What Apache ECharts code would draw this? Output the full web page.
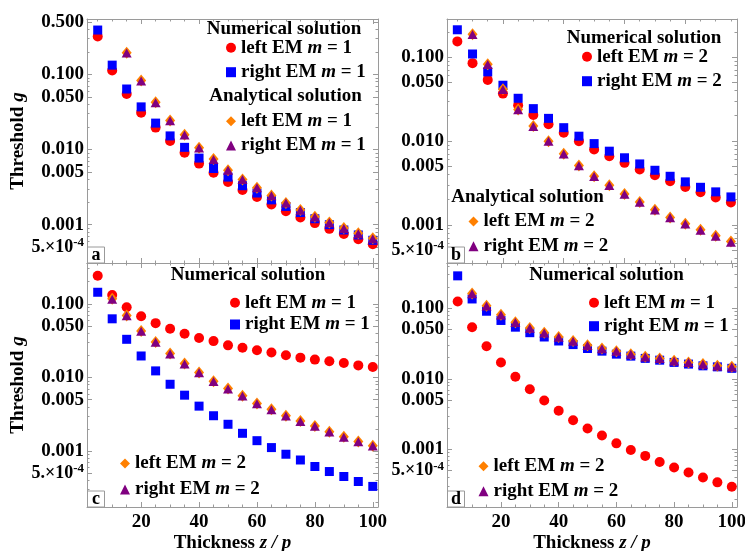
<!DOCTYPE html>
<html><head><meta charset="utf-8">
<script src="https://cdn.jsdelivr.net/npm/echarts@6/dist/echarts.min.js"></script>
<style>html,body{margin:0;padding:0;background:#fff}#c{width:745px;height:551px}</style>
</head><body><div id="c"></div><script>
// ---------------- data ----------------
const xTickLabels = [20, 40, 60, 80, 100];
const xMinorTicks = [5, 10, 15, 25, 30, 35, 45, 50, 55, 65, 70, 75, 85, 90, 95];
const yTickLabels = [0.0005, 0.001, 0.005, 0.01, 0.05, 0.1, 0.5];
const yTickText = ['5e-4', '0.001', '0.005', '0.010', '0.050', '0.100', '0.500'];

const xFull = [5, 10, 15, 20, 25, 30, 35, 40, 45, 50, 55, 60, 65, 70, 75, 80, 85, 90, 95, 100];
const xFrom10 = [10, 15, 20, 25, 30, 35, 40, 45, 50, 55, 60, 65, 70, 75, 80, 85, 90, 95, 100];
const xFrom15 = [15, 20, 25, 30, 35, 40, 45, 50, 55, 60, 65, 70, 75, 80, 85, 90, 95, 100];
const xTo95 = [5, 10, 15, 20, 25, 30, 35, 40, 45, 50, 55, 60, 65, 70, 75, 80, 85, 90, 95];
const xFrom10To95 = [10, 15, 20, 25, 30, 35, 40, 45, 50, 55, 60, 65, 70, 75, 80, 85, 90, 95];

// panel a (m = 1)
const aLeftNum  = [0.32, 0.113, 0.055, 0.031, 0.0196, 0.013, 0.0091, 0.0065, 0.0049, 0.0037, 0.0029, 0.00233, 0.00186, 0.00151, 0.00125, 0.00105, 0.00088, 0.00075, 0.00064, 0.00055];
const aRightNum = [0.39, 0.133, 0.064, 0.037, 0.0225, 0.0152, 0.0107, 0.0077, 0.0056, 0.0043, 0.0033, 0.00264, 0.00214, 0.00175, 0.00145, 0.0012, 0.001, 0.00085, 0.00073, 0.00062];
const aLeftAna  = [0.195, 0.083, 0.0425, 0.0244, 0.0157, 0.0106, 0.0075, 0.0053, 0.004, 0.0031, 0.00245, 0.00195, 0.00157, 0.00128, 0.00107, 0.0009, 0.00077, 0.00066];
const aRightAna = [0.193, 0.082, 0.042, 0.0242, 0.0156, 0.0105, 0.0074, 0.0053, 0.004, 0.0031, 0.00243, 0.00194, 0.00156, 0.00127, 0.00106, 0.00089, 0.00076, 0.00065];

// panel b (m = 2)
const bLeftNum  = [0.154, 0.0848, 0.0535, 0.0367, 0.0266, 0.0204, 0.0158, 0.0125, 0.00995, 0.0079, 0.00658, 0.00548, 0.00456, 0.00389, 0.0033, 0.00283, 0.00244, 0.00212, 0.00185];
const bRightNum = [0.212, 0.109, 0.0667, 0.0462, 0.0323, 0.0243, 0.0186, 0.0144, 0.0114, 0.0093, 0.00755, 0.0063, 0.00532, 0.00447, 0.00379, 0.00325, 0.0028, 0.00247, 0.00215];
const bLeftAna  = [0.188, 0.0824, 0.0414, 0.0238, 0.01503, 0.00995, 0.00703, 0.00509, 0.00379, 0.00296, 0.00233, 0.00187, 0.00151, 0.00122, 0.00103, 0.00087, 0.00074, 0.00063];
const bRightAna = [0.186, 0.0818, 0.0411, 0.0236, 0.0149, 0.0099, 0.007, 0.00506, 0.00377, 0.00294, 0.00232, 0.00186, 0.0015, 0.00121, 0.00102, 0.00086, 0.00073, 0.00062];

// panel c
const cLeftNum  = [0.241, 0.132, 0.09, 0.068, 0.0547, 0.0459, 0.0393, 0.0343, 0.0312, 0.0273, 0.0254, 0.0234, 0.0218, 0.02, 0.0186, 0.0175, 0.0166, 0.0157, 0.0146, 0.0139];
const cRightNum = [0.1435, 0.0626, 0.033, 0.0196, 0.0123, 0.0081, 0.00576, 0.00409, 0.00303, 0.00232, 0.00175, 0.00139, 0.00112, 0.00091, 0.00076, 0.00062, 0.00053, 0.000454, 0.000388, 0.000333];
const cLeftAna  = [0.117, 0.0695, 0.0427, 0.0303, 0.0211, 0.01545, 0.0117, 0.0089, 0.0071, 0.00564, 0.00445, 0.0037, 0.00303, 0.00257, 0.0022, 0.00184, 0.00157, 0.00135, 0.00119];
const cRightAna = [0.115, 0.0688, 0.0423, 0.03, 0.0209, 0.0153, 0.0116, 0.0088, 0.007, 0.0056, 0.0044, 0.00366, 0.003, 0.00254, 0.00218, 0.00182, 0.00155, 0.00134, 0.00118];

// panel d
const dLeftNum  = [0.125, 0.054, 0.029, 0.0171, 0.0107, 0.00714, 0.00494, 0.00354, 0.00259, 0.00198, 0.00158, 0.00122, 0.00098, 0.00081, 0.000665, 0.000555, 0.000472, 0.000401, 0.000342, 0.000297];
const dRightNum = [0.288, 0.1355, 0.0908, 0.0672, 0.054, 0.0451, 0.0392, 0.0344, 0.0306, 0.0269, 0.0247, 0.0224, 0.021, 0.0195, 0.0184, 0.0171, 0.0162, 0.0153, 0.0148, 0.0141];
const dLeftAna  = [0.1625, 0.109, 0.0807, 0.0635, 0.0524, 0.0451, 0.0392, 0.0344, 0.0299, 0.0269, 0.0247, 0.0224, 0.0205, 0.0195, 0.018, 0.0171, 0.0162, 0.0153, 0.0148];
const dRightAna = [0.161, 0.108, 0.08, 0.063, 0.052, 0.0448, 0.039, 0.0342, 0.0297, 0.0268, 0.0246, 0.0223, 0.0204, 0.0194, 0.0179, 0.017, 0.0161, 0.0152, 0.0147];

// ---------------- styling / layout ----------------
const FONT = "'Liberation Serif', 'Times New Roman', serif";
const FRAME = '#9a9a9a';
const RED = '#ff0000', BLUE = '#0000ff', ORANGE = '#ff8000', PURPLE = '#800080';
const FS = 19;

const yMinorTicks = [];
[-4, -3, -2, -1].forEach(n => [2, 3, 4, 6, 7, 8, 9].forEach(k => yMinorTicks.push(k * Math.pow(10, n))));

const panels = [
  { key: 'a', grid: { left: 87, top: 19, width: 291, height: 244 }, xr: [1.3, 101.8], yr: [3.09e-4, 0.547], xLab: false, yName: true,
    series: [
      { n: 'a1', x: xFull, y: aLeftNum, s: 'circle', c: RED, t: 'left EM ', m: '1' },
      { n: 'a2', x: xFull, y: aRightNum, s: 'rect', c: BLUE, t: 'right EM ', m: '1' },
      { n: 'a3', x: xFrom15, y: aLeftAna, s: 'diamond', c: ORANGE, t: 'left EM ', m: '1' },
      { n: 'a4', x: xFrom15, y: aRightAna, s: 'triangle', c: PURPLE, t: 'right EM ', m: '1' }],
    rows: [['a1', 231, 48.3], ['a2', 231, 72.7], ['a3', 231, 121.7], ['a4', 231, 146]],
    heads: [['Numerical solution', 284, 29], ['Analytical solution', 285.5, 96]] },
  { key: 'b', grid: { left: 447, top: 19, width: 290, height: 244 }, xr: [1.6, 97], yr: [3.5e-4, 0.285], xLab: false, yName: false,
    series: [
      { n: 'b1', x: xTo95, y: bLeftNum, s: 'circle', c: RED, t: 'left EM ', m: '2' },
      { n: 'b2', x: xTo95, y: bRightNum, s: 'rect', c: BLUE, t: 'right EM ', m: '2' },
      { n: 'b3', x: xFrom10To95, y: bLeftAna, s: 'diamond', c: ORANGE, t: 'left EM ', m: '2' },
      { n: 'b4', x: xFrom10To95, y: bRightAna, s: 'triangle', c: PURPLE, t: 'right EM ', m: '2' }],
    rows: [['b1', 587, 57.3], ['b2', 587, 81.7], ['b3', 473.5, 222], ['b4', 473.5, 246.7]],
    heads: [['Numerical solution', 644, 38], ['Analytical solution', 527.5, 197]] },
  { key: 'c', grid: { left: 87, top: 263, width: 291, height: 244 }, xr: [1.3, 101.8], yr: [1.75e-4, 0.358], xLab: true, yName: true,
    series: [
      { n: 'c1', x: xFull, y: cLeftNum, s: 'circle', c: RED, t: 'left EM ', m: '1' },
      { n: 'c2', x: xFull, y: cRightNum, s: 'rect', c: BLUE, t: 'right EM ', m: '1' },
      { n: 'c3', x: xFrom10, y: cLeftAna, s: 'diamond', c: ORANGE, t: 'left EM ', m: '2' },
      { n: 'c4', x: xFrom10, y: cRightAna, s: 'triangle', c: PURPLE, t: 'right EM ', m: '2' }],
    rows: [['c1', 235, 303.3], ['c2', 235, 325], ['c3', 125, 464], ['c4', 125, 490]],
    heads: [['Numerical solution', 248, 275]] },
  { key: 'd', grid: { left: 447, top: 263, width: 290, height: 244 }, xr: [1.3, 101.8], yr: [1.53e-4, 0.438], xLab: true, yName: false,
    series: [
      { n: 'd1', x: xFull, y: dLeftNum, s: 'circle', c: RED, t: 'left EM ', m: '1' },
      { n: 'd2', x: xFull, y: dRightNum, s: 'rect', c: BLUE, t: 'right EM ', m: '1' },
      { n: 'd3', x: xFrom10, y: dLeftAna, s: 'diamond', c: ORANGE, t: 'left EM ', m: '2' },
      { n: 'd4', x: xFrom10, y: dRightAna, s: 'triangle', c: PURPLE, t: 'right EM ', m: '2' }],
    rows: [['d1', 594, 303.3], ['d2', 594, 326.7], ['d3', 483.5, 466.7], ['d4', 483.5, 491.7]],
    heads: [['Numerical solution', 606.5, 275]] }
];

const symSize = { circle: 10, rect: 9, diamond: [10, 12], triangle: [10, 9] };
const baseText = { fontFamily: FONT, fontWeight: 'bold', fontSize: FS, color: '#000' };
const richText = {
  n: { fontFamily: FONT, fontWeight: 'bold', fontSize: FS, color: '#000', lineHeight: 20 },
  i: { fontFamily: FONT, fontWeight: 'bold', fontStyle: 'italic', fontSize: FS, color: '#000', lineHeight: 20 }
};

function yLabelFmt(v) {
  let best = 0, bd = 1e9;
  yTickLabels.forEach((t, k) => { const d = Math.abs(Math.log(v / t)); if (d < bd) { bd = d; best = k; } });
  if (bd > 1e-3) return '';
  if (best === 0) return '{m|5.×10}{s|-4}';
  return yTickText[best];
}

const grids = [], xAxes = [], yAxes = [], series = [], legends = [], graphics = [];
const labelMap = {};

panels.forEach((p, gi) => {
  grids.push(Object.assign({ containLabel: false, outerBoundsMode: 'none' }, p.grid));
  [['bottom', true], ['bottom', false], ['top', true], ['top', false]].forEach(([pos, major]) => {
    const ax = {
      type: 'value', gridIndex: gi, position: pos, min: p.xr[0], max: p.xr[1], silent: true,
      axisLine: { show: major, onZero: false, lineStyle: { color: FRAME, width: 1 } },
      axisTick: { show: true, inside: true, length: major ? 5 : 2.5, customValues: major ? xTickLabels : xMinorTicks, lineStyle: { color: FRAME } },
      axisLabel: Object.assign({ show: major && pos === 'bottom' && p.xLab, customValues: xTickLabels, margin: 6 }, baseText),
      splitLine: { show: false }, minorTick: { show: false }
    };
    if (major && pos === 'bottom' && p.xLab) {
      ax.name = '{n|Thickness }{i|z / p}';
      ax.nameLocation = 'middle';
      ax.nameGap = 26;
      ax.nameTextStyle = Object.assign({ rich: richText }, baseText);
    }
    xAxes.push(ax);
  });
  [['left', true], ['left', false], ['right', true], ['right', false]].forEach(([pos, major]) => {
    const ax = {
      type: 'log', logBase: 10, gridIndex: gi, position: pos, min: p.yr[0], max: p.yr[1], silent: true,
      axisLine: { show: major, onZero: false, lineStyle: { color: FRAME, width: 1 } },
      axisTick: { show: true, inside: true, length: major ? 5 : 2.5, customValues: major ? yTickLabels : yMinorTicks, lineStyle: { color: FRAME } },
      axisLabel: Object.assign({
        show: major && pos === 'left', customValues: yTickLabels, margin: 3, formatter: yLabelFmt,
        rich: {
          m: { fontFamily: FONT, fontWeight: 'bold', fontSize: 18, color: '#000', lineHeight: 22, verticalAlign: 'middle' },
          s: { fontFamily: FONT, fontWeight: 'bold', fontSize: 13, color: '#000', lineHeight: 13, verticalAlign: 'top' }
        }
      }, baseText),
      splitLine: { show: false }, minorTick: { show: false }
    };
    if (major && pos === 'left' && p.yName) {
      ax.name = '{n|Threshold }{i|g}';
      ax.nameLocation = 'middle';
      ax.nameGap = 58;
      ax.nameRotate = 90;
      ax.nameTextStyle = Object.assign({ rich: richText }, baseText);
    }
    yAxes.push(ax);
  });
  p.series.forEach(s => {
    labelMap[s.n] = '{n|' + s.t + '}{i|m}{n| = ' + s.m + '}';
    series.push({
      type: 'scatter', name: s.n, xAxisIndex: gi * 4, yAxisIndex: gi * 4,
      symbol: s.s, symbolSize: symSize[s.s], itemStyle: { color: s.c, opacity: 1 },
      data: s.x.map((x, k) => [x, s.y[k]]), silent: true
    });
  });
  p.rows.forEach(([name, cx, cy]) => {
    legends.push({
      data: [name], left: cx - 5, top: cy - 10, padding: 0, orient: 'vertical',
      itemWidth: 10, itemHeight: 10, selectedMode: false,
      formatter: nm => labelMap[nm],
      textStyle: Object.assign({ rich: richText }, baseText)
    });
  });
  p.heads.forEach(([txt, cx, cy]) => {
    graphics.push({ type: 'text', x: cx, y: cy, silent: true,
      style: { text: txt, fill: '#000', font: 'bold ' + FS + 'px ' + FONT, align: 'center', verticalAlign: 'middle' } });
  });
  const bx = p.grid.left + 0.5, by = p.grid.top + p.grid.height - 16;
  graphics.push({ type: 'rect', shape: { x: bx, y: by, width: 17, height: 16 }, silent: true,
    style: { fill: '#fff', stroke: FRAME, lineWidth: 1 }, z: 10 });
  graphics.push({ type: 'text', x: bx + 8.5, y: by + 8.5, silent: true, z: 11,
    style: { text: p.key, fill: '#000', font: 'bold 18px ' + FONT, align: 'center', verticalAlign: 'middle' } });
});

const chart = echarts.init(document.getElementById('c'), null, { renderer: 'canvas' });
chart.setOption({
  animation: false,
  backgroundColor: '#fff',
  grid: grids, xAxis: xAxes, yAxis: yAxes, series: series, legend: legends,
  graphic: { elements: graphics }
});
</script></body></html>
